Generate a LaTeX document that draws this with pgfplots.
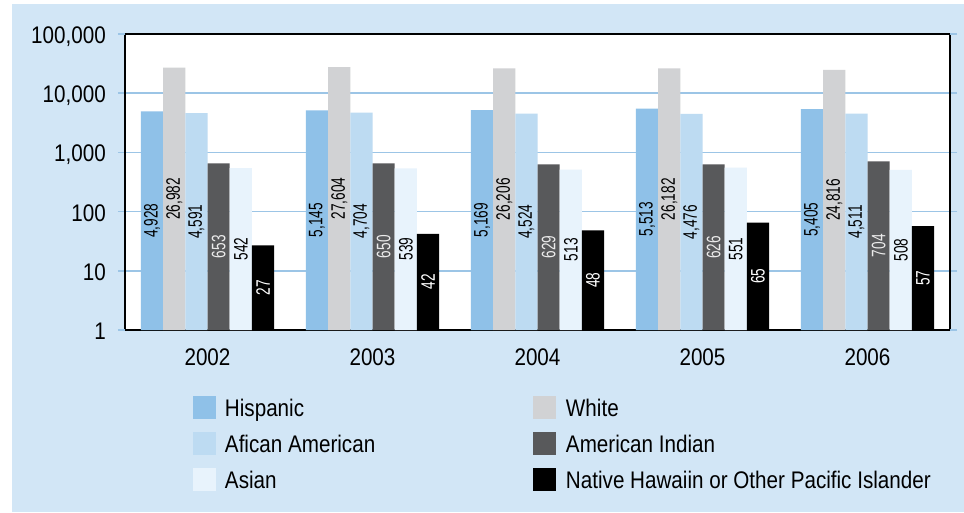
\documentclass[border=0pt]{standalone}
\usepackage{pgfplots}
\usepackage{pgfplotstable}
\pgfplotsset{compat=1.18}
\usepackage{fontspec}
\setmainfont{Liberation Sans}[FakeStretch=0.86]
\newfontfamily\barfont{Liberation Sans}[FakeStretch=0.7]
\definecolor{bg}{HTML}{D2E6F6}
\definecolor{gridblue}{HTML}{9CC5E6}
\definecolor{chisp}{HTML}{8FC1E8}
\definecolor{cwhite}{HTML}{D1D2D4}
\definecolor{cafr}{HTML}{BDDBF2}
\definecolor{camind}{HTML}{58595B}
\definecolor{casian}{HTML}{E8F3FC}
\definecolor{cnh}{HTML}{000000}

% year index, Hispanic, White, African American, American Indian, Asian, Native Hawaiian / Pacific Islander
\pgfplotstableread{
x hisp white afr amind asian nh
0 4928 26982 4591 653 542 27
1 5145 27604 4704 650 539 42
2 5169 26206 4524 629 513 48
3 5513 26182 4476 626 551 65
4 5405 24816 4511 704 508 57
}\datatable

\pgfplotsset{
  lbl/.style 2 args={forget plot, draw=none, fill=none, bar shift=#1,
    nodes near coords, point meta=explicit,
    every node near coord/.append style={rotate=90, anchor=center, inner sep=0pt,
      text=#2, font=\barfont\fontsize{19.5}{21}\selectfont}},
}

\begin{document}
\fontsize{24}{28}\selectfont
\begin{tikzpicture}[x=1pt,y=1pt]
\fill[white] (0,0) rectangle (964,512);
\fill[bg] (12,0) rectangle (964,508);
\useasboundingbox (0,0) rectangle (964,512);
\begin{axis}[
  at={(125pt,182pt)}, anchor=south west,
  scale only axis, width=825pt, height=296pt,
  ybar, bar width=22.2pt,
  ymode=log, ymin=1, ymax=100000,
  xmin=-0.5, xmax=4.5,
  axis background/.style={fill=white},
  axis line style={black, line width=1.8pt},
  ymajorgrids, grid style={gridblue, line width=1.4pt},
  yminorticks=false,
  ytick={10,100,1000,10000},
  yticklabels={10,100,{1,000},{10,000}},
  extra y ticks={1,100000},
  extra y tick labels={1,{100,000}},
  extra y tick style={grid=none, tick style={black, line width=1.6pt}},
  ytick style={gridblue, line width=1.4pt},
  y tick label style={inner sep=0pt, text height=17.2pt, text depth=0pt, xshift=-12pt, yshift=-1pt},
  tick align=outside, major tick length=7pt,
  xtick={0,1,2,3,4},
  xticklabels={2002,2003,2004,2005,2006},
  xtick style={draw=none},
  x tick label style={anchor=north, inner sep=0pt, text height=17.2pt, text depth=0pt, yshift=-11pt},
  extra x ticks={-0.5,0.5,1.5,2.5,3.5,4.5},
  extra x tick labels={},
  extra x tick style={tick style={draw=black, line width=1.6pt}},
  /pgf/number format/assume math mode=true,
  /pgf/number format/1000 sep={,},
  legend columns=2,
  legend style={at={(axis description cs:0.08242,-0.22297)}, anchor=north west,
    draw=none, fill=none, inner sep=0pt, outer sep=0pt,
    row sep=13pt, column sep=0pt,
    nodes={inner sep=0pt, anchor=west, text height=17.2pt, text depth=0pt}},
  legend image code/.code={\fill[#1] (0pt,-11.5pt) rectangle (23pt,11.5pt);},
]
\addplot[fill=chisp, draw=none, bar shift=-55.5pt] table[x=x, y=hisp] {\datatable};
\addplot[fill=cwhite, draw=none, bar shift=-33.3pt] table[x=x, y=white] {\datatable};
\addplot[fill=cafr, draw=none, bar shift=-11.1pt] table[x=x, y=afr] {\datatable};
\addplot[fill=camind, draw=none, bar shift=11.1pt] table[x=x, y=amind] {\datatable};
\addplot[fill=casian, draw=none, bar shift=33.3pt] table[x=x, y=asian] {\datatable};
\addplot[fill=cnh, draw=none, bar shift=55.5pt] table[x=x, y=nh] {\datatable};

\addplot[lbl={-55.5pt}{black}] table[x=x, y expr=sqrt(\thisrow{hisp}), meta=hisp] {\datatable};
\addplot[lbl={-33.3pt}{black}] table[x=x, y expr=sqrt(\thisrow{white}), meta=white] {\datatable};
\addplot[lbl={-11.1pt}{black}] table[x=x, y expr=sqrt(\thisrow{afr}), meta=afr] {\datatable};
\addplot[lbl={11.1pt}{white!92!black}] table[x=x, y expr=sqrt(\thisrow{amind}), meta=amind] {\datatable};
\addplot[lbl={33.3pt}{black}] table[x=x, y expr=sqrt(\thisrow{asian}), meta=asian] {\datatable};
\addplot[lbl={55.5pt}{white}] table[x=x, y expr=sqrt(\thisrow{nh}), meta=nh] {\datatable};

\legend{\makebox[317pt][l]{\hspace{9pt}Hispanic},\hspace{10pt}White,
        \makebox[317pt][l]{\hspace{9pt}Afican American},\hspace{10pt}American Indian,
        \makebox[317pt][l]{\hspace{9pt}Asian},\hspace{10pt}Native Hawaiin or Other Pacific Islander}
\end{axis}
\end{tikzpicture}
\end{document}
